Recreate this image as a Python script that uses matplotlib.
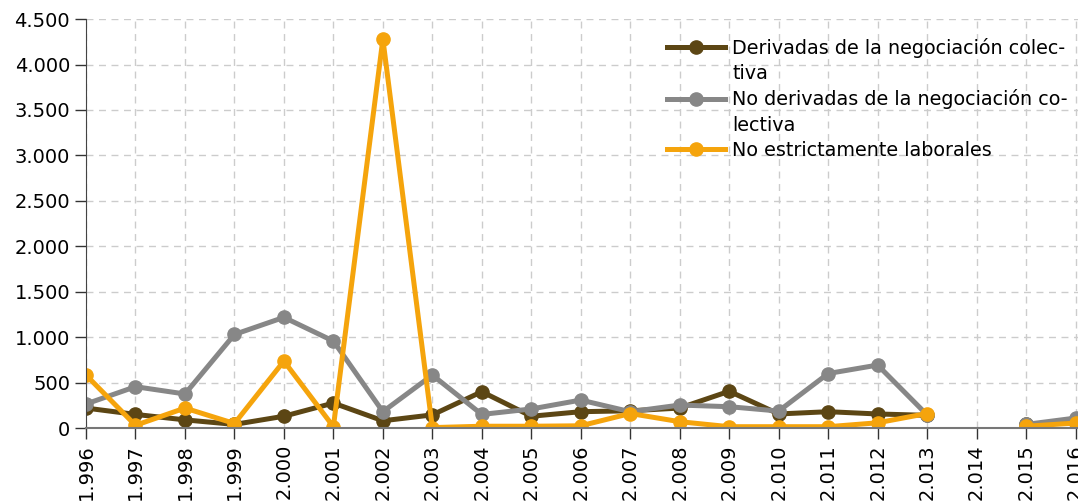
import numpy as np
import matplotlib
matplotlib.use('Agg')
import matplotlib.pyplot as plt
from matplotlib.lines import Line2D
from matplotlib.ticker import FuncFormatter

# Datos (NaN = sin dato)
years = list(range(1996, 2017))
derivadas = [220, 150, 90, 40, 130, 275, 80, 145, 400, 130, 180, 190, 220, 405, 155, 180, 155, 140, np.nan, 45, 60]
no_derivadas = [265, 455, 375, 1030, 1218, 957, 180, 583, 150, 210, 308, 180, 253, 235, 187, 600, 693, 145, np.nan, 40, 110]
no_laborales = [583, 30, 220, 50, 737, 15, 4280, 5, 20, 20, 25, 160, 70, 15, 15, 15, 58, 160, np.nan, 20, 55]

labels = ['Derivadas de la negociación colec-\ntiva',
          'No derivadas de la negociación co-\nlectiva',
          'No estrictamente laborales']
colors = ['#5c4614', '#878787', '#f5a40c']


def miles(v, pos):
    return f'{int(v):,}'.replace(',', '.')


fig = plt.figure(figsize=(10.78, 5.03), dpi=100)
ax = fig.add_axes([0.0798, 0.149, 0.9202, 0.813])

lines = []
for serie, col in zip([derivadas, no_derivadas, no_laborales], colors):
    ln, = ax.plot(years, serie, '-o', color=col, lw=3.6, markersize=9.5)
    lines.append(ln)

ax.set_xlim(1996, 2016.05)
ax.set_ylim(0, 4500)
ax.set_yticks(range(0, 4501, 500))
ax.yaxis.set_major_formatter(FuncFormatter(miles))
ax.set_xticks(years)
ax.set_xticklabels([miles(y, None) for y in years], rotation=90)
ax.tick_params(labelsize=14, length=8, width=1, color='#333333')

ax.grid(True, ls=(0, (5, 4)), color='#cccccc', lw=1)
ax.set_axisbelow(True)
for s in ['top', 'right']:
    ax.spines[s].set_visible(False)
ax.spines['left'].set_color('#444444')
ax.spines['bottom'].set_color('#777777')
ax.spines['bottom'].set_linewidth(1.5)

# leyenda: el marcador va alineado con la primera línea de cada texto
handles, texts = [], []
for ln, lab in zip(lines, labels):
    partes = lab.split('\n')
    handles.append(ln)
    texts.append(partes[0])
    for p in partes[1:]:
        handles.append(Line2D([], [], alpha=0))
        texts.append(p)

ax.legend(handles, texts, loc='upper left', bbox_to_anchor=(0.578, 0.973), frameon=False,
          fontsize=13.8, handlelength=3.0, handletextpad=0.4, labelspacing=0.33,
          borderaxespad=0)

fig.savefig('out.png', dpi=100)
